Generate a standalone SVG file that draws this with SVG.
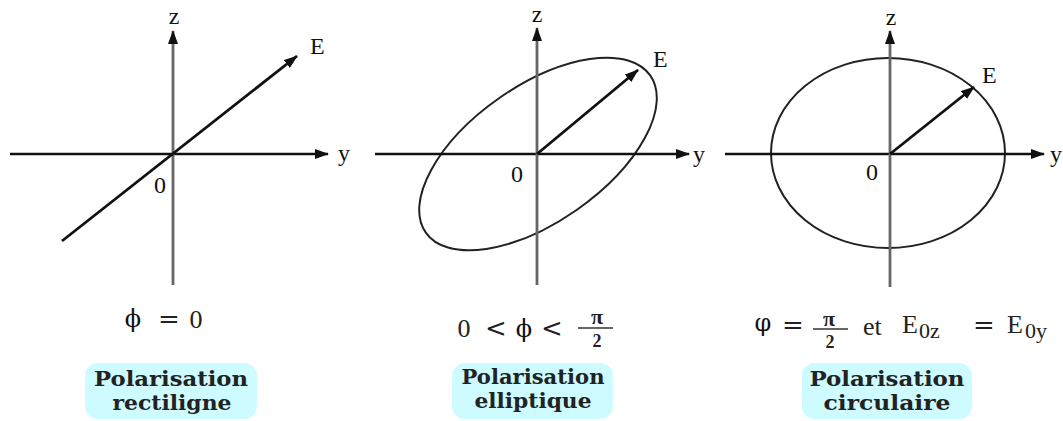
<svg xmlns="http://www.w3.org/2000/svg" width="1063" height="421" viewBox="0 0 1063 421">
<style>
.hax{stroke:#111;stroke-width:2.6;fill:none}
.vax{stroke:#666;stroke-width:2.8;fill:none}
.vec{stroke:#111;stroke-width:2.8;fill:none}
.curve{stroke:#222;stroke-width:2;fill:none}
.lbl{font-family:"Liberation Serif","DejaVu Serif",serif;font-size:24px;fill:#111}
.fm{font-family:"Liberation Serif","DejaVu Serif",serif;font-size:26px;fill:#222}
.op{font-family:"DejaVu Serif","Liberation Serif",serif;font-size:26px;fill:#222}
.sym{font-family:"DejaVu Serif","Liberation Serif",serif;font-size:24px;fill:#111}
.frac{font-family:"Liberation Serif","DejaVu Serif",serif;font-size:22px;fill:#222;font-weight:bold}
.sub{font-family:"Liberation Serif","DejaVu Serif",serif;font-size:22px;fill:#222}
.box{fill:#cdfbff}
.cap{font-family:"DejaVu Serif","Liberation Serif",serif;font-size:21px;font-weight:bold;fill:#222}
</style>
<defs>
<marker id="ah" viewBox="0 0 14 10" refX="13" refY="5" markerWidth="14" markerHeight="10" markerUnits="userSpaceOnUse" orient="auto">
<path d="M0,0 L14,5 L0,10 z" fill="#111"/>
</marker>
</defs>

<g id="panel-rectiligne">
<line class="hax" x1="10" y1="154" x2="328" y2="154" marker-end="url(#ah)"/>
<line class="vax" x1="173" y1="285" x2="173" y2="31" marker-end="url(#ah)"/>
<line class="vec" x1="62" y1="241" x2="297" y2="56" marker-end="url(#ah)"/>
<text class="lbl" x="174" y="24" text-anchor="middle">z</text>
<text class="lbl" x="338" y="161">y</text>
<text class="lbl" x="310" y="54">E</text>
<text class="lbl" x="160" y="193" text-anchor="middle">0</text>
<text class="sym" x="133" y="327" text-anchor="middle">ϕ</text>
<text class="op" x="169" y="328" text-anchor="middle">=</text>
<text class="fm" x="196" y="328" text-anchor="middle">0</text>
</g>

<g id="panel-elliptique">
<ellipse class="curve" cx="538" cy="154" rx="137" ry="68" transform="rotate(-35 538 154)"/>
<line class="hax" x1="375" y1="154" x2="689" y2="154" marker-end="url(#ah)"/>
<line class="vax" x1="537" y1="285" x2="537" y2="28" marker-end="url(#ah)"/>
<line class="vec" x1="537" y1="154" x2="638" y2="70" marker-end="url(#ah)"/>
<text class="lbl" x="537" y="22" text-anchor="middle">z</text>
<text class="lbl" x="693" y="162">y</text>
<text class="lbl" x="653" y="67">E</text>
<text class="lbl" x="517" y="182" text-anchor="middle">0</text>
<text class="fm" x="464" y="337" text-anchor="middle">0</text>
<text class="op" x="496" y="337" text-anchor="middle">&lt;</text>
<text class="sym" x="524" y="337" text-anchor="middle">ϕ</text>
<text class="op" x="552" y="337" text-anchor="middle">&lt;</text>
<text class="frac" x="597" y="324" text-anchor="middle">π</text>
<line x1="578" y1="328" x2="613" y2="328" stroke="#333" stroke-width="1.6"/>
<text class="frac" x="597" y="347" text-anchor="middle" style="font-size:18px">2</text>
</g>

<g id="panel-circulaire">
<ellipse class="curve" cx="888" cy="153" rx="117" ry="95"/>
<line class="hax" x1="725" y1="154" x2="1044" y2="154" marker-end="url(#ah)"/>
<line class="vax" x1="890" y1="287" x2="890" y2="31" marker-end="url(#ah)"/>
<line class="vec" x1="890" y1="154" x2="974" y2="87" marker-end="url(#ah)"/>
<text class="lbl" x="891" y="25" text-anchor="middle">z</text>
<text class="lbl" x="1050" y="162">y</text>
<text class="lbl" x="982" y="83">E</text>
<text class="lbl" x="872" y="180" text-anchor="middle">0</text>
<text class="sym" x="763" y="331" text-anchor="middle">φ</text>
<text class="op" x="793" y="334" text-anchor="middle">=</text>
<text class="frac" x="829" y="326" text-anchor="middle">π</text>
<line x1="813" y1="329" x2="848" y2="329" stroke="#333" stroke-width="1.6"/>
<text class="frac" x="830" y="348" text-anchor="middle" style="font-size:18px">2</text>
<text class="fm" x="863" y="335">et</text>
<text class="fm" x="902" y="333">E</text>
<text class="sub" x="919" y="338">0z</text>
<text class="op" x="984" y="334" text-anchor="middle">=</text>
<text class="fm" x="1007" y="333">E</text>
<text class="sub" x="1025" y="338">0y</text>
</g>

<g id="caption-rectiligne">
<rect class="box" x="85" y="363" width="172" height="56" rx="13"/>
<text class="cap" x="171" y="386" text-anchor="middle" textLength="154" lengthAdjust="spacingAndGlyphs">Polarisation</text>
<text class="cap" x="172" y="410" text-anchor="middle" textLength="119" lengthAdjust="spacingAndGlyphs">rectiligne</text>
</g>
<g id="caption-elliptique">
<rect class="box" x="452" y="363" width="161" height="56" rx="13"/>
<text class="cap" x="533" y="384" text-anchor="middle" textLength="143" lengthAdjust="spacingAndGlyphs">Polarisation</text>
<text class="cap" x="533" y="408" text-anchor="middle" textLength="117" lengthAdjust="spacingAndGlyphs">elliptique</text>
</g>
<g id="caption-circulaire">
<rect class="box" x="802" y="363" width="170" height="56" rx="13"/>
<text class="cap" x="887" y="386" text-anchor="middle" textLength="155" lengthAdjust="spacingAndGlyphs">Polarisation</text>
<text class="cap" x="887" y="410" text-anchor="middle" textLength="127" lengthAdjust="spacingAndGlyphs">circulaire</text>
</g>
</svg>
